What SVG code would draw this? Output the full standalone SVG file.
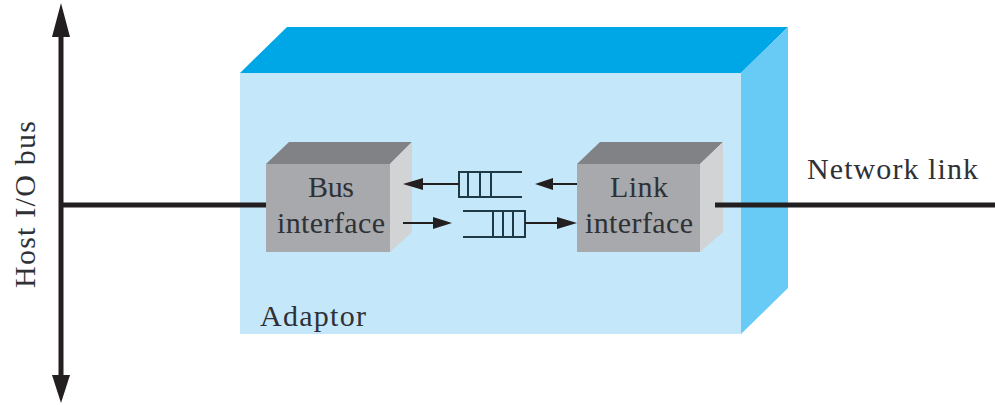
<svg xmlns="http://www.w3.org/2000/svg" width="995" height="405" viewBox="0 0 995 405">
<style>
text{font-family:"Liberation Serif","Times New Roman",serif;fill:#2f3136;font-size:30px}
.m{text-anchor:middle}
.heavy{stroke:#231f20;stroke-width:5;fill:none}
.thin{stroke:#1d3a46;stroke-width:2;fill:none}
.thinb{stroke:#231f20;stroke-width:2;fill:none}
.head{fill:#231f20}
.bf{fill:#a7a9ac}.bt{fill:#808285}.bs{fill:#d1d3d4}
</style>
<rect width="995" height="405" fill="#ffffff"/>
<g id="adaptor">
<polygon points="240,73 287,27 788,27 741,73" fill="#00a7e6"/>
<polygon points="741,73 788,27 788,288 741,334" fill="#67cbf5"/>
<rect x="240" y="73" width="501" height="261" fill="#c4e7fa"/>
<text x="260" y="326" textLength="106" lengthAdjust="spacing">Adaptor</text>
</g>
<g id="host-bus-label">
<text transform="translate(35,288) rotate(-90)" textLength="167" lengthAdjust="spacing">Host I/O bus</text>
</g>
<g id="network-link-label">
<text x="807" y="179" textLength="171" lengthAdjust="spacing">Network link</text>
</g>
<g id="bus-interface">
<polygon class="bt" points="266,164 289,142 412,142 390,164"/>
<polygon class="bs" points="390,164 412,142 412,232 390,252"/>
<rect class="bf" x="266" y="164" width="124" height="88"/>
<text class="m" x="331" y="197" textLength="46" lengthAdjust="spacing">Bus</text>
<text x="277" y="233" textLength="108" lengthAdjust="spacing">interface</text>
</g>
<g id="link-interface">
<polygon class="bt" points="577,164 600,142 723,142 700,164"/>
<polygon class="bs" points="700,164 723,142 723,232 700,252"/>
<rect class="bf" x="577" y="164" width="123" height="88"/>
<text class="m" x="639" y="197" textLength="58" lengthAdjust="spacing">Link</text>
<text x="585" y="233" textLength="108" lengthAdjust="spacing">interface</text>
</g>
<g id="queue-top">
<path class="thin" d="M522 172H459V197H522M468 172V197M480 172V197M491 172V197"/>
</g>
<g id="queue-bottom">
<path class="thin" d="M463 211H525V237H463M493 211V237M503 211V237M513 211V237"/>
</g>
<g id="connectors">
<path class="heavy" d="M61 30V378M61 205H266M715 205H995"/>
<polygon class="head" points="61,3 70,37 52,37"/>
<polygon class="head" points="61,403 70,375 52,375"/>
<path class="thinb" d="M459 184H420M577 184H550M403 223H436M525 223H560"/>
<polygon class="head" points="403,184 423,178 423,190"/>
<polygon class="head" points="535,184 553,178 553,190"/>
<polygon class="head" points="452,223 433,217 433,229"/>
<polygon class="head" points="577,223 557,217 557,229"/>
</g>
</svg>
